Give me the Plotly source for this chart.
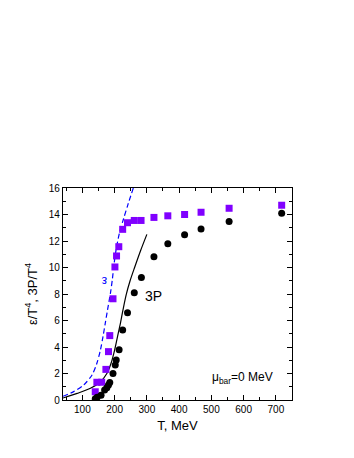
import plotly.graph_objects as go

# lattice-like points: epsilon/T^4 (squares) and 3P/T^4 (circles)
eps_T = [140, 145, 160, 173, 181, 185, 195, 201, 206, 213, 225, 240, 261, 282,
         322, 365, 417, 468, 555, 718]
eps_v = [0.62, 1.34, 1.34, 2.31, 3.65, 4.86, 7.64, 10.04, 10.87, 11.57, 12.88,
         13.38, 13.55, 13.55, 13.78, 13.9, 14.0, 14.17, 14.47, 14.7]

p3_T = [140, 146, 158, 169, 176, 181, 185, 195, 202, 205, 214, 225, 240, 261,
        283, 322, 365, 417, 468, 555, 718]
p3_v = [0.1, 0.2, 0.36, 0.75, 0.93, 1.13, 1.33, 2.0, 2.64, 3.02, 3.8, 5.28,
        6.58, 8.1, 9.25, 10.82, 11.8, 12.48, 12.9, 13.48, 14.09]

# model curves
eps_line_T = [40, 73, 104, 130, 145, 156, 164, 171, 178, 187, 193, 198, 205,
              215, 228, 242, 258]
eps_line_v = [0.28, 0.63, 1.13, 1.89, 2.77, 3.77, 4.78, 5.79, 6.79, 8.05, 9.1,
              10.2, 11.4, 12.6, 13.7, 14.8, 16.0]

p3_line_T = [40, 84, 125, 156, 176, 189, 200, 209, 218, 226, 236, 248, 262, 281, 300]
p3_line_v = [0.15, 0.5, 0.88, 1.38, 2.0, 2.77, 3.77, 4.78, 5.79, 6.8, 7.95,
             9.0, 10.0, 11.3, 12.5]

FONT = "Liberation Sans, Arial, sans-serif"

fig = go.Figure()

fig.add_trace(go.Scatter(
    x=eps_line_T, y=eps_line_v, mode="lines",
    line=dict(color="#0000ff", width=1.2, dash="5px,3px", shape="spline",
              smoothing=0.8),
))
fig.add_trace(go.Scatter(
    x=p3_line_T, y=p3_line_v, mode="lines",
    line=dict(color="black", width=1.2, shape="spline", smoothing=0.8),
))
fig.add_trace(go.Scatter(
    x=eps_T, y=eps_v, mode="markers",
    marker=dict(symbol="square", size=7, color="#8000ff"),
))
fig.add_trace(go.Scatter(
    x=p3_T, y=p3_v, mode="markers",
    marker=dict(symbol="circle", size=7, color="black"),
))

fig.add_annotation(x=167, y=8.98, text="ε", showarrow=False, textangle=180,
                   font=dict(family=FONT, size=12, color="#0000ff"))
fig.add_annotation(x=288, y=7.85, text="3P", showarrow=False, xanchor="left",
                   font=dict(family=FONT, size=14, color="black"))
fig.add_annotation(x=598, y=1.66, text="μ<sub>bar</sub>=0 MeV", showarrow=False,
                   font=dict(family=FONT, size=12, color="black"))

axis_common = dict(
    showline=True, linecolor="black", linewidth=1.3, mirror="ticks",
    ticks="inside", ticklen=5, tickwidth=1, tickcolor="black",
    showgrid=False, zeroline=False,
    tickfont=dict(family=FONT, size=10, color="black"),
)

# the page body adds an 8px offset, so margins are shifted to compensate
fig.update_layout(
    width=354, height=458,
    margin=dict(l=55, r=70, t=180, b=66),
    plot_bgcolor="white", paper_bgcolor="white",
    showlegend=False,
    xaxis=dict(range=[40, 750], dtick=100, tick0=0,
               minor=dict(ticks="inside", dtick=50, ticklen=3, tickcolor="black"),
               title=dict(text="T, MeV", standoff=6,
                          font=dict(family=FONT, size=13, color="black")),
               **axis_common),
    yaxis=dict(range=[0, 16], dtick=2,
               minor=dict(ticks="inside", dtick=1, ticklen=3, tickcolor="black"),
               title=dict(text="ε/T<sup>4</sup>, 3P/T<sup>4</sup>", standoff=8,
                          font=dict(family=FONT, size=13, color="black")),
               **axis_common),
)

fig.write_html("out.html")
